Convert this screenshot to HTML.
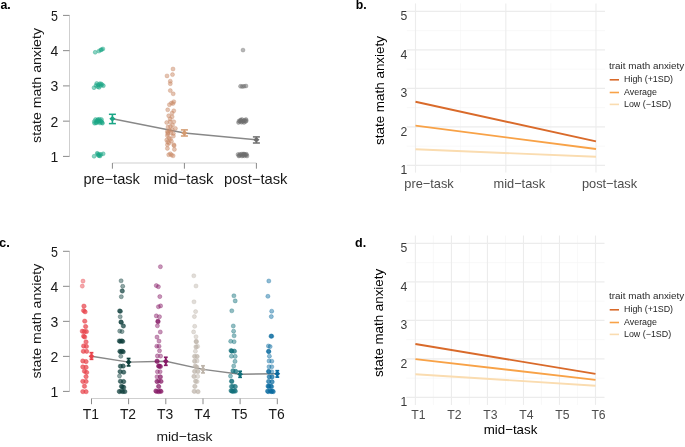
<!DOCTYPE html>
<html><head><meta charset="utf-8"><style>
html,body{margin:0;padding:0;background:#fff;}
svg{display:block;will-change:transform;filter:blur(0.38px);font-family:"Liberation Sans", sans-serif;}
</style></head><body>
<svg width="685" height="447" viewBox="0 0 685 447">
<rect width="685" height="447" fill="#fff"/>
<g>
<text x="0.5" y="8.8" font-size="12.3" fill="#000" font-weight="bold">a.</text>
<line x1="69.5" y1="15.4" x2="69.5" y2="156.4" stroke="#cfcfcf" stroke-width="1"/>
<line x1="63" y1="15.4" x2="69.5" y2="15.4" stroke="#8a8a8a" stroke-width="1"/>
<text x="58" y="20.8" font-size="14" fill="#181818" text-anchor="end" textLength="6.9" lengthAdjust="spacingAndGlyphs">5</text>
<line x1="63" y1="50.65" x2="69.5" y2="50.65" stroke="#8a8a8a" stroke-width="1"/>
<text x="58.3" y="56.05" font-size="14" fill="#181818" text-anchor="end">4</text>
<line x1="63" y1="85.9" x2="69.5" y2="85.9" stroke="#8a8a8a" stroke-width="1"/>
<text x="58.3" y="91.3" font-size="14" fill="#181818" text-anchor="end">3</text>
<line x1="63" y1="121.15" x2="69.5" y2="121.15" stroke="#8a8a8a" stroke-width="1"/>
<text x="58.3" y="126.55" font-size="14" fill="#181818" text-anchor="end">2</text>
<line x1="63" y1="156.4" x2="69.5" y2="156.4" stroke="#8a8a8a" stroke-width="1"/>
<text x="58.3" y="161.8" font-size="14" fill="#181818" text-anchor="end">1</text>
<line x1="112.4" y1="163" x2="256.4" y2="163" stroke="#cfcfcf" stroke-width="1"/>
<line x1="112.4" y1="163" x2="112.4" y2="168.7" stroke="#8a8a8a" stroke-width="1"/>
<line x1="184.4" y1="163" x2="184.4" y2="168.7" stroke="#8a8a8a" stroke-width="1"/>
<line x1="256.4" y1="163" x2="256.4" y2="168.7" stroke="#8a8a8a" stroke-width="1"/>
<text x="111.7" y="183.8" font-size="14.5" fill="#181818" text-anchor="middle" textLength="56.5" lengthAdjust="spacingAndGlyphs">pre&#8722;task</text>
<text x="183.7" y="183.8" font-size="14.5" fill="#181818" text-anchor="middle" textLength="59.7" lengthAdjust="spacingAndGlyphs">mid&#8722;task</text>
<text x="255.7" y="183.8" font-size="14.5" fill="#181818" text-anchor="middle" textLength="63.5" lengthAdjust="spacingAndGlyphs">post&#8722;task</text>
<text x="40.9" y="142.9" font-size="13.5" fill="#181818" textLength="114.9" lengthAdjust="spacingAndGlyphs" transform="rotate(-90 40.9 142.9)">state math anxiety</text>
<polyline points="112.4,118.8 184.4,133.0 256.4,139.8" fill="none" stroke="#888" stroke-width="1.4"/>
<g fill="#1AA585" fill-opacity="0.5" stroke="#1AA585" stroke-opacity="0.5" stroke-width="0.7">
<circle cx="95.2" cy="52.3" r="1.95"/>
<circle cx="98.9" cy="51.1" r="1.95"/>
<circle cx="100.7" cy="50" r="1.95"/>
<circle cx="102.9" cy="48.9" r="1.95"/>
<circle cx="101.6" cy="49.6" r="1.95"/>
<circle cx="94" cy="87.7" r="1.95"/>
<circle cx="96.7" cy="83.4" r="1.95"/>
<circle cx="97.7" cy="86.7" r="1.95"/>
<circle cx="99.7" cy="83.7" r="1.95"/>
<circle cx="99.1" cy="87.4" r="1.95"/>
<circle cx="102.1" cy="84.7" r="1.95"/>
<circle cx="103.4" cy="85.7" r="1.95"/>
<circle cx="98.2" cy="85" r="1.95"/>
<circle cx="100.6" cy="85.6" r="1.95"/>
<circle cx="101" cy="83.8" r="1.95"/>
<circle cx="96" cy="85.5" r="1.95"/>
<circle cx="94.3" cy="121.5" r="1.95"/>
<circle cx="95.5" cy="119.5" r="1.95"/>
<circle cx="96.5" cy="122.5" r="1.95"/>
<circle cx="97.5" cy="120" r="1.95"/>
<circle cx="98.5" cy="122" r="1.95"/>
<circle cx="99.5" cy="119.3" r="1.95"/>
<circle cx="100.5" cy="121" r="1.95"/>
<circle cx="101.5" cy="119.5" r="1.95"/>
<circle cx="102" cy="122.5" r="1.95"/>
<circle cx="102.5" cy="123.2" r="1.95"/>
<circle cx="100" cy="123" r="1.95"/>
<circle cx="96" cy="123" r="1.95"/>
<circle cx="94.5" cy="123.2" r="1.95"/>
<circle cx="98" cy="119.5" r="1.95"/>
<circle cx="101.5" cy="121.5" r="1.95"/>
<circle cx="97" cy="121" r="1.95"/>
<circle cx="99" cy="121" r="1.95"/>
<circle cx="94.1" cy="156.3" r="1.95"/>
<circle cx="97.8" cy="154.1" r="1.95"/>
<circle cx="99.1" cy="155.7" r="1.95"/>
<circle cx="99.4" cy="154.3" r="1.95"/>
<circle cx="103.2" cy="153.8" r="1.95"/>
<circle cx="97.2" cy="153.3" r="1.95"/>
<circle cx="101" cy="154.5" r="1.95"/>
<circle cx="100" cy="156" r="1.95"/>
<circle cx="98.3" cy="155.3" r="1.95"/>
</g>
<g fill="#C98A66" fill-opacity="0.5" stroke="#C98A66" stroke-opacity="0.5" stroke-width="0.7">
<circle cx="173" cy="69" r="2.0"/>
<circle cx="167" cy="75.9" r="2.0"/>
<circle cx="172.5" cy="74.6" r="2.0"/>
<circle cx="170.3" cy="81.2" r="2.0"/>
<circle cx="170.3" cy="83.7" r="2.0"/>
<circle cx="170.3" cy="90.6" r="2.0"/>
<circle cx="173.2" cy="93.8" r="2.0"/>
<circle cx="169.4" cy="104.7" r="2.0"/>
<circle cx="171.4" cy="103.1" r="2.0"/>
<circle cx="173.8" cy="101.7" r="2.0"/>
<circle cx="167.7" cy="109.8" r="2.0"/>
<circle cx="173.8" cy="110.8" r="2.0"/>
<circle cx="168.7" cy="115.8" r="2.0"/>
<circle cx="172.1" cy="113.1" r="2.0"/>
<circle cx="172.1" cy="116.8" r="2.0"/>
<circle cx="166.7" cy="122.5" r="2.0"/>
<circle cx="170.1" cy="121.8" r="2.0"/>
<circle cx="173.8" cy="121.8" r="2.0"/>
<circle cx="170.1" cy="119" r="2.0"/>
<circle cx="170.4" cy="126.4" r="2.0"/>
<circle cx="175.4" cy="128.4" r="2.0"/>
<circle cx="167.4" cy="131.4" r="2.0"/>
<circle cx="167.7" cy="133.8" r="2.0"/>
<circle cx="173.4" cy="133.4" r="2.0"/>
<circle cx="173.4" cy="136.1" r="2.0"/>
<circle cx="166.7" cy="140.1" r="2.0"/>
<circle cx="170.4" cy="139.1" r="2.0"/>
<circle cx="171.4" cy="141.2" r="2.0"/>
<circle cx="167.4" cy="144.8" r="2.0"/>
<circle cx="173.8" cy="144.8" r="2.0"/>
<circle cx="167.7" cy="142" r="2.0"/>
<circle cx="167.4" cy="148.4" r="2.0"/>
<circle cx="174.1" cy="145.7" r="2.0"/>
<circle cx="174.4" cy="149.4" r="2.0"/>
<circle cx="168.7" cy="154.8" r="2.0"/>
<circle cx="170.4" cy="153.8" r="2.0"/>
<circle cx="173.1" cy="155.8" r="2.0"/>
<circle cx="167.4" cy="135.7" r="2.0"/>
<circle cx="169.5" cy="130.5" r="2.0"/>
<circle cx="171" cy="133" r="2.0"/>
<circle cx="168" cy="132.5" r="2.0"/>
<circle cx="172.5" cy="125" r="2.0"/>
<circle cx="169" cy="143" r="2.0"/>
<circle cx="171.5" cy="155" r="2.0"/>
<circle cx="169" cy="138" r="2.0"/>
<circle cx="172" cy="129.5" r="2.0"/>
<circle cx="168" cy="127" r="2.0"/>
<circle cx="173" cy="103.5" r="2.0"/>
</g>
<g fill="#6E6E6E" fill-opacity="0.5" stroke="#6E6E6E" stroke-opacity="0.5" stroke-width="0.7">
<circle cx="243" cy="50.1" r="1.95"/>
<circle cx="240.5" cy="86.3" r="1.95"/>
<circle cx="244" cy="86.3" r="1.95"/>
<circle cx="246" cy="86" r="1.95"/>
<circle cx="242.3" cy="86.5" r="1.95"/>
<circle cx="238.5" cy="122.5" r="1.95"/>
<circle cx="241" cy="120.5" r="1.95"/>
<circle cx="243.5" cy="121" r="1.95"/>
<circle cx="246" cy="119.5" r="1.95"/>
<circle cx="244" cy="122.5" r="1.95"/>
<circle cx="240" cy="121.5" r="1.95"/>
<circle cx="245.5" cy="121.5" r="1.95"/>
<circle cx="242" cy="119.5" r="1.95"/>
<circle cx="239" cy="121" r="1.95"/>
<circle cx="241.5" cy="122.3" r="1.95"/>
<circle cx="244.5" cy="120.3" r="1.95"/>
<circle cx="242.5" cy="121.5" r="1.95"/>
<circle cx="246.3" cy="120.8" r="1.95"/>
<circle cx="240.5" cy="120" r="1.95"/>
<circle cx="238" cy="154.5" r="1.95"/>
<circle cx="241" cy="155" r="1.95"/>
<circle cx="243" cy="155.5" r="1.95"/>
<circle cx="245" cy="154.5" r="1.95"/>
<circle cx="247" cy="156" r="1.95"/>
<circle cx="239.5" cy="155.5" r="1.95"/>
<circle cx="244" cy="154" r="1.95"/>
<circle cx="246" cy="155" r="1.95"/>
<circle cx="242" cy="154" r="1.95"/>
<circle cx="240" cy="154.2" r="1.95"/>
<circle cx="242" cy="156" r="1.95"/>
<circle cx="244.5" cy="155.8" r="1.95"/>
<circle cx="246.5" cy="154.3" r="1.95"/>
<circle cx="238.8" cy="156" r="1.95"/>
<circle cx="243.5" cy="154.3" r="1.95"/>
</g>
<g stroke="#1AA585" fill="none" stroke-width="1.6">
<line x1="112.4" y1="114.3" x2="112.4" y2="123.6"/>
<line x1="108.9" y1="114.3" x2="115.9" y2="114.3" stroke-width="1.5"/>
<line x1="108.9" y1="123.6" x2="115.9" y2="123.6" stroke-width="1.5"/>
</g>
<path d="M109.3 118.8 L112.4 116 L115.5 118.8 L112.4 121.6Z" fill="#1AA585"/>
<g stroke="#D39A70" fill="none" stroke-width="1.6">
<line x1="184.4" y1="129.9" x2="184.4" y2="136"/>
<line x1="180.9" y1="129.9" x2="187.9" y2="129.9" stroke-width="1.5"/>
<line x1="180.9" y1="136" x2="187.9" y2="136" stroke-width="1.5"/>
</g>
<path d="M181.3 133 L184.4 130.2 L187.5 133 L184.4 135.8Z" fill="#D39A70"/>
<g stroke="#6E6E6E" fill="none" stroke-width="1.6">
<line x1="256.4" y1="136.9" x2="256.4" y2="143"/>
<line x1="252.9" y1="136.9" x2="259.9" y2="136.9" stroke-width="1.5"/>
<line x1="252.9" y1="143" x2="259.9" y2="143" stroke-width="1.5"/>
</g>
<path d="M253.3 139.8 L256.4 137 L259.5 139.8 L256.4 142.6Z" fill="#6E6E6E"/>
</g>
<g>
<text x="-1" y="247.4" font-size="13" fill="#000" font-weight="bold">c.</text>
<line x1="69.5" y1="251.3" x2="69.5" y2="391.4" stroke="#cfcfcf" stroke-width="1"/>
<line x1="63" y1="251.3" x2="69.5" y2="251.3" stroke="#8a8a8a" stroke-width="1"/>
<text x="58" y="256.7" font-size="14" fill="#181818" text-anchor="end" textLength="6.9" lengthAdjust="spacingAndGlyphs">5</text>
<line x1="63" y1="286.32" x2="69.5" y2="286.32" stroke="#8a8a8a" stroke-width="1"/>
<text x="58.3" y="291.72" font-size="14" fill="#181818" text-anchor="end">4</text>
<line x1="63" y1="321.35" x2="69.5" y2="321.35" stroke="#8a8a8a" stroke-width="1"/>
<text x="58.3" y="326.75" font-size="14" fill="#181818" text-anchor="end">3</text>
<line x1="63" y1="356.38" x2="69.5" y2="356.38" stroke="#8a8a8a" stroke-width="1"/>
<text x="58.3" y="361.77" font-size="14" fill="#181818" text-anchor="end">2</text>
<line x1="63" y1="391.4" x2="69.5" y2="391.4" stroke="#8a8a8a" stroke-width="1"/>
<text x="58.3" y="396.8" font-size="14" fill="#181818" text-anchor="end">1</text>
<line x1="91.5" y1="398.5" x2="277.3" y2="398.5" stroke="#cfcfcf" stroke-width="1"/>
<line x1="91.5" y1="398.5" x2="91.5" y2="404.2" stroke="#8a8a8a" stroke-width="1"/>
<line x1="128.6" y1="398.5" x2="128.6" y2="404.2" stroke="#8a8a8a" stroke-width="1"/>
<line x1="165.8" y1="398.5" x2="165.8" y2="404.2" stroke="#8a8a8a" stroke-width="1"/>
<line x1="203" y1="398.5" x2="203" y2="404.2" stroke="#8a8a8a" stroke-width="1"/>
<line x1="240.1" y1="398.5" x2="240.1" y2="404.2" stroke="#8a8a8a" stroke-width="1"/>
<line x1="277.3" y1="398.5" x2="277.3" y2="404.2" stroke="#8a8a8a" stroke-width="1"/>
<text x="90.9" y="419" font-size="14" fill="#181818" text-anchor="middle" textLength="16.2" lengthAdjust="spacingAndGlyphs">T1</text>
<text x="128" y="419" font-size="14" fill="#181818" text-anchor="middle" textLength="16.2" lengthAdjust="spacingAndGlyphs">T2</text>
<text x="165.2" y="419" font-size="14" fill="#181818" text-anchor="middle" textLength="16.2" lengthAdjust="spacingAndGlyphs">T3</text>
<text x="202.4" y="419" font-size="14" fill="#181818" text-anchor="middle" textLength="16.2" lengthAdjust="spacingAndGlyphs">T4</text>
<text x="239.5" y="419" font-size="14" fill="#181818" text-anchor="middle" textLength="16.2" lengthAdjust="spacingAndGlyphs">T5</text>
<text x="276.7" y="419" font-size="14" fill="#181818" text-anchor="middle" textLength="16.2" lengthAdjust="spacingAndGlyphs">T6</text>
<text x="40.9" y="378.5" font-size="13.5" fill="#181818" textLength="114.9" lengthAdjust="spacingAndGlyphs" transform="rotate(-90 40.9 378.5)">state math anxiety</text>
<text x="184.4" y="441.3" font-size="13" fill="#181818" text-anchor="middle" textLength="56" lengthAdjust="spacingAndGlyphs">mid&#8722;task</text>
<polyline points="91.5,356.3 128.6,362.1 165.8,361.3 203,369.4 240.1,374.2 277.3,373.7" fill="none" stroke="#888" stroke-width="1.4"/>
<g fill="#E8434B" fill-opacity="0.46" stroke="#E8434B" stroke-opacity="0.46" stroke-width="0.7">
<circle cx="83" cy="281.1" r="2.05"/>
<circle cx="82.3" cy="286.1" r="2.05"/>
<circle cx="83.7" cy="306" r="2.05"/>
<circle cx="84.2" cy="306.3" r="2.05"/>
<circle cx="83.4" cy="310.5" r="2.05"/>
<circle cx="83.9" cy="310.8" r="2.05"/>
<circle cx="84.8" cy="311.6" r="2.05"/>
<circle cx="85.3" cy="311.9" r="2.05"/>
<circle cx="84.5" cy="321" r="2.05"/>
<circle cx="85" cy="321.3" r="2.05"/>
<circle cx="85.4" cy="326.4" r="2.05"/>
<circle cx="85.9" cy="326.7" r="2.05"/>
<circle cx="82.1" cy="331.1" r="2.05"/>
<circle cx="82.6" cy="331.4" r="2.05"/>
<circle cx="86.1" cy="331.4" r="2.05"/>
<circle cx="86.6" cy="331.7" r="2.05"/>
<circle cx="84.1" cy="331.4" r="2.05"/>
<circle cx="84.6" cy="331.7" r="2.05"/>
<circle cx="83.4" cy="336.1" r="2.05"/>
<circle cx="83.9" cy="336.4" r="2.05"/>
<circle cx="84.4" cy="336.8" r="2.05"/>
<circle cx="84.9" cy="337.1" r="2.05"/>
<circle cx="85.8" cy="341.8" r="2.05"/>
<circle cx="86.3" cy="342.1" r="2.05"/>
<circle cx="83.4" cy="345.9" r="2.05"/>
<circle cx="83.9" cy="346.2" r="2.05"/>
<circle cx="86.1" cy="346.2" r="2.05"/>
<circle cx="86.6" cy="346.5" r="2.05"/>
<circle cx="83.1" cy="351.2" r="2.05"/>
<circle cx="83.6" cy="351.5" r="2.05"/>
<circle cx="86.4" cy="351.2" r="2.05"/>
<circle cx="86.9" cy="351.5" r="2.05"/>
<circle cx="82.6" cy="360.9" r="2.05"/>
<circle cx="83.1" cy="361.2" r="2.05"/>
<circle cx="85.8" cy="361.4" r="2.05"/>
<circle cx="86.3" cy="361.7" r="2.05"/>
<circle cx="82.6" cy="366.8" r="2.05"/>
<circle cx="83.1" cy="367.1" r="2.05"/>
<circle cx="85.8" cy="367.1" r="2.05"/>
<circle cx="86.3" cy="367.4" r="2.05"/>
<circle cx="84.2" cy="371.1" r="2.05"/>
<circle cx="84.7" cy="371.4" r="2.05"/>
<circle cx="86.4" cy="372.2" r="2.05"/>
<circle cx="86.9" cy="372.5" r="2.05"/>
<circle cx="85.8" cy="376.5" r="2.05"/>
<circle cx="86.3" cy="376.8" r="2.05"/>
<circle cx="82.6" cy="381.3" r="2.05"/>
<circle cx="83.1" cy="381.6" r="2.05"/>
<circle cx="85.8" cy="381.3" r="2.05"/>
<circle cx="86.3" cy="381.6" r="2.05"/>
<circle cx="84.2" cy="386.1" r="2.05"/>
<circle cx="84.7" cy="386.4" r="2.05"/>
<circle cx="82.6" cy="391.5" r="2.05"/>
<circle cx="83.1" cy="391.8" r="2.05"/>
<circle cx="85.8" cy="391.5" r="2.05"/>
<circle cx="86.3" cy="391.8" r="2.05"/>
</g>
<g fill="#0F403C" fill-opacity="0.46" stroke="#0F403C" stroke-opacity="0.46" stroke-width="0.7">
<circle cx="121.1" cy="280.8" r="2.05"/>
<circle cx="122.7" cy="286.3" r="2.05"/>
<circle cx="122" cy="290.8" r="2.05"/>
<circle cx="122.5" cy="291.1" r="2.05"/>
<circle cx="121.3" cy="296.7" r="2.05"/>
<circle cx="119.5" cy="310.9" r="2.05"/>
<circle cx="120" cy="311.2" r="2.05"/>
<circle cx="120.5" cy="311.3" r="2.05"/>
<circle cx="120.2" cy="316.7" r="2.05"/>
<circle cx="120.8" cy="321.9" r="2.05"/>
<circle cx="121.3" cy="322.2" r="2.05"/>
<circle cx="121.2" cy="322.3" r="2.05"/>
<circle cx="123.1" cy="325.8" r="2.05"/>
<circle cx="123.6" cy="326.1" r="2.05"/>
<circle cx="119.7" cy="331.1" r="2.05"/>
<circle cx="122" cy="331.6" r="2.05"/>
<circle cx="119.7" cy="341.2" r="2.05"/>
<circle cx="120.2" cy="341.5" r="2.05"/>
<circle cx="119.2" cy="340.9" r="2.05"/>
<circle cx="122.4" cy="341.2" r="2.05"/>
<circle cx="122.9" cy="341.5" r="2.05"/>
<circle cx="121.9" cy="340.9" r="2.05"/>
<circle cx="121" cy="341" r="2.05"/>
<circle cx="120.2" cy="351.6" r="2.05"/>
<circle cx="120.7" cy="351.9" r="2.05"/>
<circle cx="119.7" cy="351.3" r="2.05"/>
<circle cx="122.9" cy="351.6" r="2.05"/>
<circle cx="123.4" cy="351.9" r="2.05"/>
<circle cx="122.4" cy="351.3" r="2.05"/>
<circle cx="121.5" cy="351.2" r="2.05"/>
<circle cx="120.8" cy="356.3" r="2.05"/>
<circle cx="120.2" cy="366.1" r="2.05"/>
<circle cx="120.7" cy="366.4" r="2.05"/>
<circle cx="122.9" cy="365.9" r="2.05"/>
<circle cx="123.4" cy="366.2" r="2.05"/>
<circle cx="119.9" cy="371.5" r="2.05"/>
<circle cx="120.4" cy="371.8" r="2.05"/>
<circle cx="123.4" cy="372" r="2.05"/>
<circle cx="123.9" cy="372.3" r="2.05"/>
<circle cx="119.5" cy="376" r="2.05"/>
<circle cx="120.2" cy="381.2" r="2.05"/>
<circle cx="120.7" cy="381.5" r="2.05"/>
<circle cx="123.4" cy="381.4" r="2.05"/>
<circle cx="123.9" cy="381.7" r="2.05"/>
<circle cx="121.8" cy="386.6" r="2.05"/>
<circle cx="122.3" cy="386.9" r="2.05"/>
<circle cx="121.3" cy="386.3" r="2.05"/>
<circle cx="123.4" cy="387.1" r="2.05"/>
<circle cx="123.9" cy="387.4" r="2.05"/>
<circle cx="119.1" cy="391.4" r="2.05"/>
<circle cx="119.6" cy="391.7" r="2.05"/>
<circle cx="122.4" cy="391.4" r="2.05"/>
<circle cx="122.9" cy="391.7" r="2.05"/>
<circle cx="124.5" cy="391.4" r="2.05"/>
<circle cx="125" cy="391.7" r="2.05"/>
<circle cx="121" cy="391" r="2.05"/>
</g>
<g fill="#861A66" fill-opacity="0.46" stroke="#861A66" stroke-opacity="0.46" stroke-width="0.7">
<circle cx="160.4" cy="266.7" r="2.05"/>
<circle cx="156.3" cy="285.6" r="2.05"/>
<circle cx="158.4" cy="286.7" r="2.05"/>
<circle cx="159.8" cy="296.6" r="2.05"/>
<circle cx="158.4" cy="306.7" r="2.05"/>
<circle cx="160.6" cy="305.9" r="2.05"/>
<circle cx="156.3" cy="315.9" r="2.05"/>
<circle cx="159.5" cy="316.7" r="2.05"/>
<circle cx="157.7" cy="321.5" r="2.05"/>
<circle cx="158.2" cy="321.8" r="2.05"/>
<circle cx="158" cy="321" r="2.05"/>
<circle cx="157.4" cy="325.8" r="2.05"/>
<circle cx="160.3" cy="332" r="2.05"/>
<circle cx="157" cy="337.1" r="2.05"/>
<circle cx="159" cy="341.1" r="2.05"/>
<circle cx="156.8" cy="346.2" r="2.05"/>
<circle cx="159" cy="346.2" r="2.05"/>
<circle cx="159.5" cy="350.8" r="2.05"/>
<circle cx="157.4" cy="355.9" r="2.05"/>
<circle cx="160.6" cy="356.1" r="2.05"/>
<circle cx="156.8" cy="361.3" r="2.05"/>
<circle cx="157.3" cy="361.6" r="2.05"/>
<circle cx="157.2" cy="361" r="2.05"/>
<circle cx="158.4" cy="366" r="2.05"/>
<circle cx="158.9" cy="366.3" r="2.05"/>
<circle cx="160.1" cy="366.3" r="2.05"/>
<circle cx="160.6" cy="366.6" r="2.05"/>
<circle cx="159" cy="366" r="2.05"/>
<circle cx="159.5" cy="366.3" r="2.05"/>
<circle cx="157.4" cy="371.7" r="2.05"/>
<circle cx="160.1" cy="371.7" r="2.05"/>
<circle cx="157" cy="376.8" r="2.05"/>
<circle cx="160.1" cy="376.7" r="2.05"/>
<circle cx="160.6" cy="377" r="2.05"/>
<circle cx="156.8" cy="381.4" r="2.05"/>
<circle cx="157.3" cy="381.7" r="2.05"/>
<circle cx="160.7" cy="381.2" r="2.05"/>
<circle cx="161.2" cy="381.5" r="2.05"/>
<circle cx="158.7" cy="380.9" r="2.05"/>
<circle cx="158.4" cy="386.3" r="2.05"/>
<circle cx="158.9" cy="386.6" r="2.05"/>
<circle cx="156.2" cy="391.2" r="2.05"/>
<circle cx="156.7" cy="391.5" r="2.05"/>
<circle cx="155.7" cy="390.9" r="2.05"/>
<circle cx="160.7" cy="391.2" r="2.05"/>
<circle cx="161.2" cy="391.5" r="2.05"/>
<circle cx="160.2" cy="390.9" r="2.05"/>
<circle cx="158.4" cy="391.5" r="2.05"/>
<circle cx="158.9" cy="391.8" r="2.05"/>
</g>
<g fill="#BDB4AA" fill-opacity="0.46" stroke="#BDB4AA" stroke-opacity="0.46" stroke-width="0.7">
<circle cx="193.8" cy="275.8" r="2.05"/>
<circle cx="196" cy="286" r="2.05"/>
<circle cx="194" cy="301.8" r="2.05"/>
<circle cx="195.6" cy="311.6" r="2.05"/>
<circle cx="194.4" cy="316.6" r="2.05"/>
<circle cx="194.7" cy="326.3" r="2.05"/>
<circle cx="193.6" cy="331.9" r="2.05"/>
<circle cx="196" cy="336.7" r="2.05"/>
<circle cx="196" cy="341.6" r="2.05"/>
<circle cx="196.5" cy="341.9" r="2.05"/>
<circle cx="196.3" cy="341.2" r="2.05"/>
<circle cx="195.8" cy="346.8" r="2.05"/>
<circle cx="196.3" cy="347.1" r="2.05"/>
<circle cx="197.6" cy="346.4" r="2.05"/>
<circle cx="195.4" cy="351.2" r="2.05"/>
<circle cx="194.4" cy="356.3" r="2.05"/>
<circle cx="194.9" cy="356.6" r="2.05"/>
<circle cx="196.8" cy="356.3" r="2.05"/>
<circle cx="197.3" cy="356.6" r="2.05"/>
<circle cx="194.4" cy="361.1" r="2.05"/>
<circle cx="194.9" cy="361.4" r="2.05"/>
<circle cx="197.1" cy="360.9" r="2.05"/>
<circle cx="195.1" cy="366" r="2.05"/>
<circle cx="195.6" cy="366.3" r="2.05"/>
<circle cx="196.5" cy="367" r="2.05"/>
<circle cx="197" cy="367.3" r="2.05"/>
<circle cx="194.4" cy="371.3" r="2.05"/>
<circle cx="194.9" cy="371.6" r="2.05"/>
<circle cx="197.6" cy="371.3" r="2.05"/>
<circle cx="198.1" cy="371.6" r="2.05"/>
<circle cx="193.8" cy="376.3" r="2.05"/>
<circle cx="194.3" cy="376.6" r="2.05"/>
<circle cx="197.7" cy="376.4" r="2.05"/>
<circle cx="195.4" cy="381.1" r="2.05"/>
<circle cx="195.9" cy="381.4" r="2.05"/>
<circle cx="197.1" cy="381.6" r="2.05"/>
<circle cx="194.6" cy="386.2" r="2.05"/>
<circle cx="195.1" cy="386.5" r="2.05"/>
<circle cx="194" cy="391.2" r="2.05"/>
<circle cx="194.5" cy="391.5" r="2.05"/>
<circle cx="197.7" cy="391.5" r="2.05"/>
<circle cx="198.2" cy="391.8" r="2.05"/>
</g>
<g fill="#12707A" fill-opacity="0.46" stroke="#12707A" stroke-opacity="0.46" stroke-width="0.7">
<circle cx="233.9" cy="295.8" r="2.05"/>
<circle cx="235.2" cy="300.9" r="2.05"/>
<circle cx="231.8" cy="310.8" r="2.05"/>
<circle cx="233.3" cy="326" r="2.05"/>
<circle cx="233.6" cy="331.2" r="2.05"/>
<circle cx="234.1" cy="335.8" r="2.05"/>
<circle cx="230.7" cy="341.3" r="2.05"/>
<circle cx="234.1" cy="341.7" r="2.05"/>
<circle cx="231.4" cy="350.8" r="2.05"/>
<circle cx="231.9" cy="351.1" r="2.05"/>
<circle cx="230.9" cy="350.5" r="2.05"/>
<circle cx="231.8" cy="351.2" r="2.05"/>
<circle cx="234.1" cy="351" r="2.05"/>
<circle cx="234.6" cy="351.3" r="2.05"/>
<circle cx="231.4" cy="356.2" r="2.05"/>
<circle cx="235.2" cy="356.4" r="2.05"/>
<circle cx="235" cy="361.4" r="2.05"/>
<circle cx="233.7" cy="366" r="2.05"/>
<circle cx="232.8" cy="370.7" r="2.05"/>
<circle cx="235.5" cy="371.2" r="2.05"/>
<circle cx="236" cy="371.5" r="2.05"/>
<circle cx="233.2" cy="371" r="2.05"/>
<circle cx="230.5" cy="376.1" r="2.05"/>
<circle cx="231.4" cy="381.3" r="2.05"/>
<circle cx="231.9" cy="381.6" r="2.05"/>
<circle cx="231.8" cy="381" r="2.05"/>
<circle cx="231.4" cy="386.4" r="2.05"/>
<circle cx="231.9" cy="386.7" r="2.05"/>
<circle cx="235" cy="386.4" r="2.05"/>
<circle cx="235.5" cy="386.7" r="2.05"/>
<circle cx="233" cy="386" r="2.05"/>
<circle cx="231.4" cy="390.9" r="2.05"/>
<circle cx="231.9" cy="391.2" r="2.05"/>
<circle cx="230.9" cy="390.6" r="2.05"/>
<circle cx="235" cy="390.9" r="2.05"/>
<circle cx="235.5" cy="391.2" r="2.05"/>
<circle cx="234.5" cy="390.6" r="2.05"/>
<circle cx="233" cy="391.2" r="2.05"/>
<circle cx="233.5" cy="391.5" r="2.05"/>
<circle cx="232.2" cy="391" r="2.05"/>
</g>
<g fill="#0A6AA0" fill-opacity="0.46" stroke="#0A6AA0" stroke-opacity="0.46" stroke-width="0.7">
<circle cx="268.8" cy="281" r="2.05"/>
<circle cx="267.9" cy="296.3" r="2.05"/>
<circle cx="271.7" cy="311.2" r="2.05"/>
<circle cx="271.3" cy="316.6" r="2.05"/>
<circle cx="271.3" cy="336" r="2.05"/>
<circle cx="271.8" cy="336.3" r="2.05"/>
<circle cx="271" cy="336.3" r="2.05"/>
<circle cx="268.4" cy="346" r="2.05"/>
<circle cx="270.1" cy="346.6" r="2.05"/>
<circle cx="268.4" cy="351.4" r="2.05"/>
<circle cx="268.9" cy="351.7" r="2.05"/>
<circle cx="268.7" cy="351.2" r="2.05"/>
<circle cx="269.4" cy="356.2" r="2.05"/>
<circle cx="269" cy="361" r="2.05"/>
<circle cx="271.8" cy="361.2" r="2.05"/>
<circle cx="269" cy="366.8" r="2.05"/>
<circle cx="271.8" cy="366.8" r="2.05"/>
<circle cx="268.4" cy="371.5" r="2.05"/>
<circle cx="268.9" cy="371.8" r="2.05"/>
<circle cx="268.8" cy="371.2" r="2.05"/>
<circle cx="271.8" cy="371.8" r="2.05"/>
<circle cx="269" cy="376.7" r="2.05"/>
<circle cx="269.5" cy="377" r="2.05"/>
<circle cx="271.8" cy="376.7" r="2.05"/>
<circle cx="272.3" cy="377" r="2.05"/>
<circle cx="268.4" cy="381.4" r="2.05"/>
<circle cx="268.9" cy="381.7" r="2.05"/>
<circle cx="271.8" cy="381.6" r="2.05"/>
<circle cx="272.3" cy="381.9" r="2.05"/>
<circle cx="268.4" cy="386.4" r="2.05"/>
<circle cx="268.9" cy="386.7" r="2.05"/>
<circle cx="267.9" cy="386.1" r="2.05"/>
<circle cx="271.2" cy="386.4" r="2.05"/>
<circle cx="271.7" cy="386.7" r="2.05"/>
<circle cx="270.7" cy="386.1" r="2.05"/>
<circle cx="269" cy="386" r="2.05"/>
<circle cx="267.9" cy="391.4" r="2.05"/>
<circle cx="268.4" cy="391.7" r="2.05"/>
<circle cx="267.4" cy="391.1" r="2.05"/>
<circle cx="271.2" cy="391.4" r="2.05"/>
<circle cx="271.7" cy="391.7" r="2.05"/>
<circle cx="270.7" cy="391.1" r="2.05"/>
<circle cx="272.9" cy="391.4" r="2.05"/>
<circle cx="273.4" cy="391.7" r="2.05"/>
<circle cx="272.4" cy="391.1" r="2.05"/>
<circle cx="270" cy="391" r="2.05"/>
</g>
<g stroke="#E8434B" fill="none" stroke-width="1.8">
<line x1="91.5" y1="352.7" x2="91.5" y2="359.3"/>
<line x1="89.6" y1="352.7" x2="93.4" y2="352.7" stroke-width="1.7"/>
<line x1="89.6" y1="359.3" x2="93.4" y2="359.3" stroke-width="1.7"/>
</g>
<path d="M88.6 356.3 L91.5 353.4 L94.4 356.3 L91.5 359.2Z" fill="#E8434B"/>
<g stroke="#0F403C" fill="none" stroke-width="1.8">
<line x1="128.6" y1="358.5" x2="128.6" y2="365.9"/>
<line x1="126.7" y1="358.5" x2="130.5" y2="358.5" stroke-width="1.7"/>
<line x1="126.7" y1="365.9" x2="130.5" y2="365.9" stroke-width="1.7"/>
</g>
<path d="M125.7 362.1 L128.6 359.2 L131.5 362.1 L128.6 365Z" fill="#0F403C"/>
<g stroke="#861A66" fill="none" stroke-width="1.8">
<line x1="165.8" y1="357.3" x2="165.8" y2="365.3"/>
<line x1="163.9" y1="357.3" x2="167.7" y2="357.3" stroke-width="1.7"/>
<line x1="163.9" y1="365.3" x2="167.7" y2="365.3" stroke-width="1.7"/>
</g>
<path d="M162.9 361.3 L165.8 358.4 L168.7 361.3 L165.8 364.2Z" fill="#861A66"/>
<g stroke="#BDB4AA" fill="none" stroke-width="1.8">
<line x1="203" y1="365.8" x2="203" y2="372.9"/>
<line x1="201.1" y1="365.8" x2="204.9" y2="365.8" stroke-width="1.7"/>
<line x1="201.1" y1="372.9" x2="204.9" y2="372.9" stroke-width="1.7"/>
</g>
<path d="M200.1 369.4 L203 366.5 L205.9 369.4 L203 372.3Z" fill="#BDB4AA"/>
<g stroke="#12707A" fill="none" stroke-width="1.8">
<line x1="240.1" y1="371.3" x2="240.1" y2="377.3"/>
<line x1="238.2" y1="371.3" x2="242" y2="371.3" stroke-width="1.7"/>
<line x1="238.2" y1="377.3" x2="242" y2="377.3" stroke-width="1.7"/>
</g>
<path d="M237.2 374.2 L240.1 371.3 L243 374.2 L240.1 377.1Z" fill="#12707A"/>
<g stroke="#0A6AA0" fill="none" stroke-width="1.8">
<line x1="277.3" y1="370.7" x2="277.3" y2="377.1"/>
<line x1="275.4" y1="370.7" x2="279.2" y2="370.7" stroke-width="1.7"/>
<line x1="275.4" y1="377.1" x2="279.2" y2="377.1" stroke-width="1.7"/>
</g>
<path d="M274.4 373.7 L277.3 370.8 L280.2 373.7 L277.3 376.6Z" fill="#0A6AA0"/>
</g>
<text x="355.7" y="8.8" font-size="12.3" fill="#000" font-weight="bold">b.</text>
<line x1="406.8" y1="30.65" x2="605" y2="30.65" stroke="#f4f4f4" stroke-width="0.6"/>
<line x1="406.8" y1="69.15" x2="605" y2="69.15" stroke="#f4f4f4" stroke-width="0.6"/>
<line x1="406.8" y1="107.65" x2="605" y2="107.65" stroke="#f4f4f4" stroke-width="0.6"/>
<line x1="406.8" y1="146.15" x2="605" y2="146.15" stroke="#f4f4f4" stroke-width="0.6"/>
<line x1="460.6" y1="3.4" x2="460.6" y2="172.6" stroke="#f4f4f4" stroke-width="0.6"/>
<line x1="550.9" y1="3.4" x2="550.9" y2="172.6" stroke="#f4f4f4" stroke-width="0.6"/>
<line x1="406.8" y1="11.4" x2="605" y2="11.4" stroke="#ececec" stroke-width="1.1"/>
<line x1="406.8" y1="49.9" x2="605" y2="49.9" stroke="#ececec" stroke-width="1.1"/>
<line x1="406.8" y1="88.4" x2="605" y2="88.4" stroke="#ececec" stroke-width="1.1"/>
<line x1="406.8" y1="126.9" x2="605" y2="126.9" stroke="#ececec" stroke-width="1.1"/>
<line x1="406.8" y1="165.4" x2="605" y2="165.4" stroke="#ececec" stroke-width="1.1"/>
<line x1="415.5" y1="3.4" x2="415.5" y2="172.6" stroke="#ececec" stroke-width="1.1"/>
<line x1="505.8" y1="3.4" x2="505.8" y2="172.6" stroke="#ececec" stroke-width="1.1"/>
<line x1="596" y1="3.4" x2="596" y2="172.6" stroke="#ececec" stroke-width="1.1"/>
<text x="407.2" y="20" font-size="12.2" fill="#3a3a3a" text-anchor="end">5</text>
<text x="407.2" y="58.5" font-size="12.2" fill="#3a3a3a" text-anchor="end">4</text>
<text x="407.2" y="97" font-size="12.2" fill="#3a3a3a" text-anchor="end">3</text>
<text x="407.2" y="135.5" font-size="12.2" fill="#3a3a3a" text-anchor="end">2</text>
<text x="407.2" y="174" font-size="12.2" fill="#3a3a3a" text-anchor="end">1</text>
<line x1="415.5" y1="101.8" x2="596" y2="141.4" stroke="#D96A2A" stroke-width="1.9"/>
<line x1="415.5" y1="125.6" x2="596" y2="149" stroke="#F8A247" stroke-width="1.9"/>
<line x1="415.5" y1="149.3" x2="596" y2="156.7" stroke="#FADCB0" stroke-width="1.9"/>
<text x="429" y="187.5" font-size="12.8" fill="#4d4d4d" text-anchor="middle">pre&#8722;task</text>
<text x="519.3" y="187.5" font-size="12.8" fill="#4d4d4d" text-anchor="middle">mid&#8722;task</text>
<text x="609.5" y="187.5" font-size="12.8" fill="#4d4d4d" text-anchor="middle">post&#8722;task</text>
<text x="609" y="68.8" font-size="9.7" fill="#2a2a2a" textLength="75.2" lengthAdjust="spacingAndGlyphs">trait math anxiety</text>
<line x1="609.7" y1="79.8" x2="619" y2="79.8" stroke="#D96A2A" stroke-width="1.6"/>
<text x="624" y="82.4" font-size="8.9" fill="#232323">High (+1SD)</text>
<line x1="609.7" y1="92.5" x2="619" y2="92.5" stroke="#F8A247" stroke-width="1.6"/>
<text x="624" y="95.1" font-size="8.9" fill="#232323">Average</text>
<line x1="609.7" y1="104.4" x2="619" y2="104.4" stroke="#FADCB0" stroke-width="1.6"/>
<text x="624" y="107" font-size="8.9" fill="#232323">Low (&#8722;1SD)</text>
<text x="384" y="145" font-size="13.3" fill="#000" textLength="109" lengthAdjust="spacingAndGlyphs" transform="rotate(-90 384 145)">state math anxiety</text>
<text x="355" y="247.4" font-size="12.5" fill="#000" font-weight="bold">d.</text>
<line x1="406.3" y1="262.65" x2="604.5" y2="262.65" stroke="#f4f4f4" stroke-width="0.6"/>
<line x1="406.3" y1="301.15" x2="604.5" y2="301.15" stroke="#f4f4f4" stroke-width="0.6"/>
<line x1="406.3" y1="339.65" x2="604.5" y2="339.65" stroke="#f4f4f4" stroke-width="0.6"/>
<line x1="406.3" y1="378.15" x2="604.5" y2="378.15" stroke="#f4f4f4" stroke-width="0.6"/>
<line x1="433.4" y1="235.5" x2="433.4" y2="404.9" stroke="#f4f4f4" stroke-width="0.6"/>
<line x1="469.42" y1="235.5" x2="469.42" y2="404.9" stroke="#f4f4f4" stroke-width="0.6"/>
<line x1="505.44" y1="235.5" x2="505.44" y2="404.9" stroke="#f4f4f4" stroke-width="0.6"/>
<line x1="541.46" y1="235.5" x2="541.46" y2="404.9" stroke="#f4f4f4" stroke-width="0.6"/>
<line x1="577.48" y1="235.5" x2="577.48" y2="404.9" stroke="#f4f4f4" stroke-width="0.6"/>
<line x1="406.3" y1="243.4" x2="604.5" y2="243.4" stroke="#ececec" stroke-width="1.1"/>
<line x1="406.3" y1="281.9" x2="604.5" y2="281.9" stroke="#ececec" stroke-width="1.1"/>
<line x1="406.3" y1="320.4" x2="604.5" y2="320.4" stroke="#ececec" stroke-width="1.1"/>
<line x1="406.3" y1="358.9" x2="604.5" y2="358.9" stroke="#ececec" stroke-width="1.1"/>
<line x1="406.3" y1="397.4" x2="604.5" y2="397.4" stroke="#ececec" stroke-width="1.1"/>
<line x1="415.4" y1="235.5" x2="415.4" y2="404.9" stroke="#ececec" stroke-width="1.1"/>
<line x1="451.42" y1="235.5" x2="451.42" y2="404.9" stroke="#ececec" stroke-width="1.1"/>
<line x1="487.44" y1="235.5" x2="487.44" y2="404.9" stroke="#ececec" stroke-width="1.1"/>
<line x1="523.46" y1="235.5" x2="523.46" y2="404.9" stroke="#ececec" stroke-width="1.1"/>
<line x1="559.48" y1="235.5" x2="559.48" y2="404.9" stroke="#ececec" stroke-width="1.1"/>
<line x1="595.5" y1="235.5" x2="595.5" y2="404.9" stroke="#ececec" stroke-width="1.1"/>
<text x="407.2" y="252" font-size="12.2" fill="#3a3a3a" text-anchor="end">5</text>
<text x="407.2" y="290.5" font-size="12.2" fill="#3a3a3a" text-anchor="end">4</text>
<text x="407.2" y="329" font-size="12.2" fill="#3a3a3a" text-anchor="end">3</text>
<text x="407.2" y="367.5" font-size="12.2" fill="#3a3a3a" text-anchor="end">2</text>
<text x="407.2" y="406" font-size="12.2" fill="#3a3a3a" text-anchor="end">1</text>
<line x1="415.4" y1="344" x2="595.5" y2="373.9" stroke="#D96A2A" stroke-width="1.9"/>
<line x1="415.4" y1="359.1" x2="595.5" y2="379.9" stroke="#F8A247" stroke-width="1.9"/>
<line x1="415.4" y1="374.2" x2="595.5" y2="385.8" stroke="#FADCB0" stroke-width="1.9"/>
<text x="418.4" y="418.7" font-size="12.2" fill="#4d4d4d" text-anchor="middle">T1</text>
<text x="454.42" y="418.7" font-size="12.2" fill="#4d4d4d" text-anchor="middle">T2</text>
<text x="490.44" y="418.7" font-size="12.2" fill="#4d4d4d" text-anchor="middle">T3</text>
<text x="526.46" y="418.7" font-size="12.2" fill="#4d4d4d" text-anchor="middle">T4</text>
<text x="562.48" y="418.7" font-size="12.2" fill="#4d4d4d" text-anchor="middle">T5</text>
<text x="598.5" y="418.7" font-size="12.2" fill="#4d4d4d" text-anchor="middle">T6</text>
<text x="609" y="298.8" font-size="9.7" fill="#2a2a2a" textLength="75.2" lengthAdjust="spacingAndGlyphs">trait math anxiety</text>
<line x1="609.7" y1="309.8" x2="619" y2="309.8" stroke="#D96A2A" stroke-width="1.6"/>
<text x="624" y="312.4" font-size="8.9" fill="#232323">High (+1SD)</text>
<line x1="609.7" y1="322.5" x2="619" y2="322.5" stroke="#F8A247" stroke-width="1.6"/>
<text x="624" y="325.1" font-size="8.9" fill="#232323">Average</text>
<line x1="609.7" y1="334.4" x2="619" y2="334.4" stroke="#FADCB0" stroke-width="1.6"/>
<text x="624" y="337" font-size="8.9" fill="#232323">Low (&#8722;1SD)</text>
<text x="383" y="377.1" font-size="13.3" fill="#000" textLength="108.2" lengthAdjust="spacingAndGlyphs" transform="rotate(-90 383 377.1)">state math anxiety</text>
<text x="510.5" y="434.3" font-size="13.3" fill="#000" text-anchor="middle">mid&#8722;task</text>
</svg>
</body></html>
